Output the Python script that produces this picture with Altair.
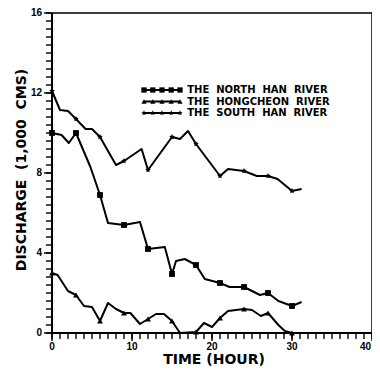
import altair as alt
import pandas as pd

# ---- data ----
north_t = [0, 1.2, 2.1, 3, 4.8, 6, 7, 9, 11, 12, 14.1, 15, 15.5, 16.6, 18, 19.1, 21, 22.2, 24, 26, 27, 28.3, 30, 31.2]
north_q = [10.0, 9.9, 9.5, 10.0, 8.3, 6.9, 5.5, 5.4, 5.55, 4.2, 4.3, 2.95, 3.6, 3.7, 3.4, 2.7, 2.5, 2.3, 2.3, 1.9, 2.0, 1.6, 1.35, 1.55]

hong_t = [0, 0.7, 2, 3, 4, 5, 6, 7, 8, 9, 9.8, 11, 12, 13, 14, 15, 16, 18, 19, 20, 21, 22, 23, 24, 25, 26.1, 27, 28.3, 29.1, 30]
hong_q = [3.0, 2.9, 2.1, 1.9, 1.35, 1.3, 0.6, 1.5, 1.2, 1.0, 1.0, 0.45, 0.7, 0.95, 0.95, 0.6, 0.0, 0.05, 0.5, 0.3, 0.75, 1.1, 1.15, 1.2, 1.15, 0.85, 1.0, 0.4, 0.1, 0.0]

south_t = [0, 1, 2, 3, 4.2, 5, 6, 8, 9, 11.2, 12, 15, 16, 17, 18, 21, 22, 24, 25.6, 27, 28.2, 30, 31.2]
south_q = [12.1, 11.15, 11.1, 10.7, 10.2, 10.2, 9.8, 8.4, 8.6, 9.2, 8.15, 9.8, 9.7, 10.1, 9.45, 7.85, 8.2, 8.1, 7.85, 7.85, 7.7, 7.1, 7.2]

marker_hours = [0, 3, 6, 9, 12, 15, 18, 21, 24, 27, 30]

series_names = ["THE\u00a0\u00a0NORTH\u00a0\u00a0HAN\u00a0\u00a0RIVER",
                "THE\u00a0\u00a0HONGCHEON\u00a0\u00a0RIVER",
                "THE\u00a0\u00a0SOUTH\u00a0\u00a0HAN\u00a0\u00a0RIVER"]

x_title = "TIME\u00a0(HOUR)"
y_title = "DISCHARGE\u00a0\u00a0(1,000\u00a0\u00a0CMS)"

x_major = [0, 10, 20, 30, 40]
y_major = [0, 4, 8, 12, 16]
x_ticks = list(range(0, 41))
y_ticks = [round(0.4 * i, 1) for i in range(41)]

STAR = "M0,-1L0.29,-0.4L0.95,-0.31L0.48,0.15L0.59,0.81L0,0.5L-0.59,0.81L-0.48,0.15L-0.95,-0.31L-0.29,-0.4Z"
shapes = ["square", "triangle-up", STAR]

rows = []
for name, ts, qs in zip(series_names, [north_t, hong_t, south_t], [north_q, hong_q, south_q]):
    for t, q in zip(ts, qs):
        rows.append({"series": name, "t": t, "q": q, "mark": t in marker_hours})
df = pd.DataFrame(rows)

# legend sample (in data units)
leg_t = [11.5, 12.6, 13.75, 14.9, 16.0]
leg_q = [12.15, 11.575, 11.0]
leg_text_t = 16.9
leg_rows = []
for name, q in zip(series_names, leg_q):
    for t in leg_t:
        leg_rows.append({"series": name, "t": t, "q": q})
leg_df = pd.DataFrame(leg_rows)
leg_txt = pd.DataFrame({"series": series_names, "t": [leg_text_t] * 3, "q": leg_q})

xt_df = pd.DataFrame({"tick": x_ticks, "major": [v in x_major for v in x_ticks]})
yt_df = pd.DataFrame({"tick": y_ticks, "major": [v in y_major for v in y_ticks]})
xl_df = pd.DataFrame({"t": x_major, "label": [str(v) for v in x_major]})
yl_df = pd.DataFrame({"q": y_major, "label": [str(v) for v in y_major]})
title_df = pd.DataFrame({"xt": [x_title], "yt": [y_title]})

FONT = "Liberation Sans"
BOLDWIDE = "DejaVu Sans"
INK = "#000000"

xscale = alt.Scale(domain=[0, 40], nice=False, zero=False)
yscale = alt.Scale(domain=[0, 16], nice=False, zero=False)
shape_scale = alt.Scale(domain=series_names, range=shapes)

X = alt.X("t:Q", scale=xscale, axis=None)
Y = alt.Y("q:Q", scale=yscale, axis=None)
XT = alt.X("tick:Q", scale=xscale, axis=None)
YT = alt.Y("tick:Q", scale=yscale, axis=None)

# axis lines and plot frame
frame = []
for enc in [dict(x=alt.value(0), x2=alt.value(320), y=alt.value(0)),
            dict(x=alt.value(320), y=alt.value(0), y2=alt.value(320))]:
    frame.append(alt.Chart(title_df).mark_rule(color="black", strokeWidth=1.5).encode(**enc))
for enc in [dict(x=alt.value(0), x2=alt.value(320), y=alt.value(320)),
            dict(x=alt.value(0), y=alt.value(0), y2=alt.value(320))]:
    frame.append(alt.Chart(title_df).mark_rule(color="black", strokeWidth=2).encode(**enc))

# tick marks drawn through the scales
xtick_minor = alt.Chart(xt_df).mark_tick(color=INK, thickness=2, size=6, orient="vertical",
                                         yOffset=3).encode(x=XT, y=alt.value(320))
ytick_minor = alt.Chart(yt_df).mark_tick(color=INK, thickness=2, size=6, orient="horizontal",
                                         xOffset=-3).encode(y=YT, x=alt.value(0))
xtick_major = alt.Chart(xt_df).transform_filter("datum.major").mark_tick(
    color=INK, thickness=2, size=8, orient="vertical", yOffset=4).encode(x=XT, y=alt.value(320))
ytick_major = alt.Chart(yt_df).transform_filter("datum.major").mark_tick(
    color=INK, thickness=2, size=8, orient="horizontal", xOffset=-4).encode(y=YT, x=alt.value(0))

# tick labels
xlab = alt.Chart(xl_df).transform_filter("datum.t < 40").mark_text(
    align="center", baseline="top", font=FONT, fontSize=10, fontWeight="bold", color="black").encode(
    x=X, y=alt.value(329), text="label:N")
xlab_end = alt.Chart(xl_df).transform_filter("datum.t >= 40").mark_text(
    align="right", baseline="top", dx=-1, font=FONT, fontSize=10, fontWeight="bold", color="black").encode(
    x=X, y=alt.value(329), text="label:N")
ylab = alt.Chart(yl_df).mark_text(
    align="right", baseline="middle", font=FONT, fontSize=10, fontWeight="bold", color="black").encode(
    y=Y, x=alt.value(-10), text="label:N")

# axis titles
xtitle = alt.Chart(title_df).mark_text(align="center", baseline="middle", font=BOLDWIDE, fontSize=14,
                                       fontWeight="bold", color="black").encode(
    x=alt.value(162), y=alt.value(347), text="xt:N")
ytitle = alt.Chart(title_df).mark_text(align="center", baseline="middle", angle=270, font=BOLDWIDE,
                                       fontSize=14, fontWeight="bold", color="black").encode(
    x=alt.value(-30), y=alt.value(157), text="yt:N")

lines = alt.Chart(df).mark_line(color="black", strokeWidth=2, strokeJoin="round").encode(
    x=X, y=Y, detail="series:N")
points = alt.Chart(df).transform_filter("datum.mark").mark_point(
    filled=True, color="black", opacity=1, size=34).encode(
    x=X, y=Y, shape=alt.Shape("series:N", scale=shape_scale, legend=None))

leg_lines = alt.Chart(leg_df).mark_line(color="black", strokeWidth=2).encode(
    x=X, y=Y, detail="series:N")
leg_points = alt.Chart(leg_df).mark_point(filled=True, color="black", opacity=1, size=28).encode(
    x=X, y=Y, shape=alt.Shape("series:N", scale=shape_scale, legend=None))
leg_text = alt.Chart(leg_txt).mark_text(align="left", baseline="middle", font=BOLDWIDE, fontSize=10,
                                        fontWeight="bold", color="black").encode(
    x=X, y=Y, text="series:N")

chart = alt.layer(*frame, lines, points, leg_lines, leg_points, leg_text,
                  xlab, xlab_end, ylab, xtitle, ytitle,
                  xtick_minor, ytick_minor, xtick_major, ytick_major).properties(
    width=320, height=320,
    autosize=alt.AutoSizeParams(type="none"),
    padding={"left": 44, "top": 5, "right": 0, "bottom": 36},
    background="white",
).configure_view(stroke=None)

chart.save("out.html", embed_options={"renderer": "svg", "actions": False})
